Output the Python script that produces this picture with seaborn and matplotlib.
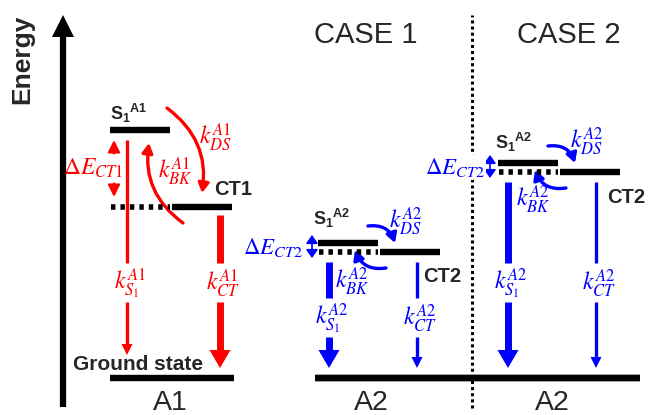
import pandas as pd
import matplotlib.pyplot as plt
from matplotlib.patches import FancyArrowPatch
import seaborn as sns

# Energy levels (arbitrary units, ground state = 0)
molecules = ["A1", "A2", "A2"]
case_titles = ["", "CASE 1", "CASE 2"]
s1_energy = [248, 135, 215]
ct_energy = [171, 126, 206]
ground_energy = 0
ct_names = ["CT1", "CT2", "CT2"]
dE_names = [r"$\Delta E_{CT1}$", r"$\Delta E_{CT2}$", r"$\Delta E_{CT2}$"]
# which decay channel dominates (thick arrow)
s1_decay_fast = [False, True, True]
ct_decay_fast = [True, False, False]
panel_colors = ["#ff0000", "#0000ff", "#0000ff"]

sns.set_theme(style="white")
plt.rcParams["font.family"] = ["Liberation Sans", "DejaVu Sans"]
plt.rcParams["lines.solid_capstyle"] = "butt"
plt.rcParams["mathtext.fontset"] = "stix"
plt.rcParams["mathtext.rm"] = "Liberation Sans:bold"
plt.rcParams["mathtext.it"] = "Liberation Sans:bold"
plt.rcParams["mathtext.bf"] = "Liberation Sans:bold"

# layout (pixels of the 648x415 canvas)
x0 = [110, 318, 498]          # left edge of the S1 level
lvl_w = 60
ground_x = [(110, 234), (315, 640), (315, 640)]
s1_arrow_dx = [17, 11, 10]
ct_arrow_dx = [110, 99, 98]
decay_label_E = [95, 60, 95]
ds_dx = [(57, 92), (50, 77), (50, 77)]
ds_dy = [(22, 14), (17, 9), (17, 9)]
bk_dx = [(73, 39), (68, 37), (68, 37)]
bk_dy = [(-16, -13), (-16, -7), (-16, -7)]
bend = [-0.3, -0.4, -0.4]
kds_pos = [(105, -7), (88, 22), (89, 22)]
kbk_pos = [(65, 36), (34, -29), (35, -27)]
dE_dx = [(-17, 4), (-45, -6), (-43, -8)]
s1_name_pos = [(0, 10), (-5, 18), (-3, 14)]
ct_name_pos = [(104, 12), (105, -30), (109, -31)]
title_x = [170, 371, 552]
case_x = [0, 366, 569]
k_size = 17

fig = plt.figure(figsize=(6.48, 4.15), dpi=100)
ax = fig.add_axes([0, 0, 1, 1])
ax.set_xlim(0, 648)
ax.set_ylim(-37, 378)
ax.axis("off")

# solid energy levels
rows = []
for i in range(3):
    rows += [dict(seg=f"s1{i}", x=x0[i], E=s1_energy[i]),
             dict(seg=f"s1{i}", x=x0[i] + lvl_w, E=s1_energy[i]),
             dict(seg=f"ct{i}", x=x0[i] + lvl_w + 2, E=ct_energy[i]),
             dict(seg=f"ct{i}", x=x0[i] + 2 * lvl_w + 2, E=ct_energy[i]),
             dict(seg=f"g{i}", x=ground_x[i][0], E=ground_energy),
             dict(seg=f"g{i}", x=ground_x[i][1], E=ground_energy)]
levels = pd.DataFrame(rows)
sns.lineplot(data=levels, x="x", y="E", units="seg", estimator=None,
             sort=False, color="black", lw=4.6, ax=ax)

# dotted CT level under S1
for i in range(3):
    ax.plot([x0[i] + 1, x0[i] + lvl_w], [ct_energy[i]] * 2, color="black",
            lw=4, ls=(0, (0.8, 0.9)))

# energy axis
ax.plot([63, 63], [-29, 345], color="black", lw=4.5)
ax.fill([52, 74, 63], [341, 341, 363], color="black", lw=0)
ax.text(22, 319, "Energy", rotation=90, fontsize=19, weight="bold",
        ha="center", va="center")

# case divider
ax.plot([472, 472], [-30, 363], color="black", lw=2.2, ls=(0, (1, 1)))


def decay(x, top, lab_E, tip, fast, color, label):
    lw = 5 if fast else 2.4
    hw, hl = (21, 18) if fast else (11, 11)
    ax.plot([x, x], [top, lab_E + 20], color=color, lw=lw)
    ax.plot([x, x], [lab_E - 19, tip + hl - 1], color=color, lw=lw)
    ax.fill([x - hw / 2, x + hw / 2, x], [tip + hl, tip + hl, tip],
            color=color, lw=0)
    ax.text(x + 3, lab_E, label, color=color, fontsize=k_size, ha="center",
            va="center", math_fontfamily="stix")


def curved(p0, p1, rad, color):
    ax.add_patch(FancyArrowPatch(p0, p1, connectionstyle=f"arc3,rad={rad}",
                                 arrowstyle="-|>,head_length=0.8,head_width=0.45",
                                 mutation_scale=7, lw=2.4, color=color,
                                 shrinkA=0, shrinkB=0))


for i in range(3):
    c = panel_colors[i]
    m = molecules[i]
    s1, ct = s1_energy[i], ct_energy[i]

    # decay channels to ground state
    s1_top = s1 - 10 if i == 0 else ct - 10
    ct_top = ct - 8 if i == 0 else ct - 10
    decay(x0[i] + s1_arrow_dx[i], s1_top, decay_label_E[i],
          23 if i == 0 else 10, s1_decay_fast[i], c,
          rf"$k_{{S_1}}^{{{m}}}$")
    decay(x0[i] + ct_arrow_dx[i], ct_top, decay_label_E[i], 10,
          ct_decay_fast[i], c, rf"$k_{{CT}}^{{{m}}}$")

    # forward / back transfer
    curved((x0[i] + ds_dx[i][0], s1 + ds_dy[i][0]),
           (x0[i] + ds_dx[i][1], ct + ds_dy[i][1]), bend[i], c)
    curved((x0[i] + bk_dx[i][0], ct + bk_dy[i][0]),
           (x0[i] + bk_dx[i][1], s1 + bk_dy[i][1]), bend[i], c)
    ax.text(x0[i] + kds_pos[i][0], s1 + kds_pos[i][1], rf"$k_{{DS}}^{{{m}}}$",
            color=c, fontsize=k_size, ha="center", va="center",
            math_fontfamily="stix")
    ax.text(x0[i] + kbk_pos[i][0], ct + kbk_pos[i][1], rf"$k_{{BK}}^{{{m}}}$",
            color=c, fontsize=k_size, ha="center", va="center",
            math_fontfamily="stix")

    # energy gap
    mid = (s1 + ct) / 2
    ax_x = x0[i] + dE_dx[i][1]
    if i == 0:
        for a, b in [(mid + 15, s1 - 10), (mid - 15, ct + 10)]:
            ax.add_patch(FancyArrowPatch((ax_x, a), (ax_x, b),
                                         arrowstyle="-|>,head_length=0.9,head_width=0.45",
                                         mutation_scale=8, lw=1.6, color=c,
                                         shrinkA=0, shrinkB=0))
    else:
        ax.add_patch(FancyArrowPatch((ax_x, ct - 6), (ax_x, s1 + 8),
                                     arrowstyle="<|-|>,head_length=0.7,head_width=0.5",
                                     mutation_scale=7, lw=1.2, color=c,
                                     shrinkA=0, shrinkB=0))
    t = ax.text(x0[i] + dE_dx[i][0], mid, dE_names[i], color=c,
                fontsize=17 if i == 0 else 16.5, ha="center", va="center",
                math_fontfamily="stix")
    if i == 2:
        t.set_bbox(dict(facecolor="white", edgecolor="none", pad=1))

    # level names
    ax.text(x0[i] + s1_name_pos[i][0], s1 + s1_name_pos[i][1],
            rf"${{S_1}}^{{{m}}}$", fontsize=13, ha="left", va="baseline",
            math_fontfamily="custom")
    ax.text(x0[i] + ct_name_pos[i][0], ct + ct_name_pos[i][1], ct_names[i],
            fontsize=14.5, weight="bold", ha="left", va="baseline")

    ax.text(title_x[i], -32, m, fontsize=20.5, ha="center", va="baseline")
    if case_titles[i]:
        ax.text(case_x[i], 335, case_titles[i], fontsize=21, ha="center",
                va="baseline")

ax.text(73, 8, "Ground state", fontsize=15, weight="bold", ha="left",
        va="baseline")

fig.savefig("out.png", dpi=100)
